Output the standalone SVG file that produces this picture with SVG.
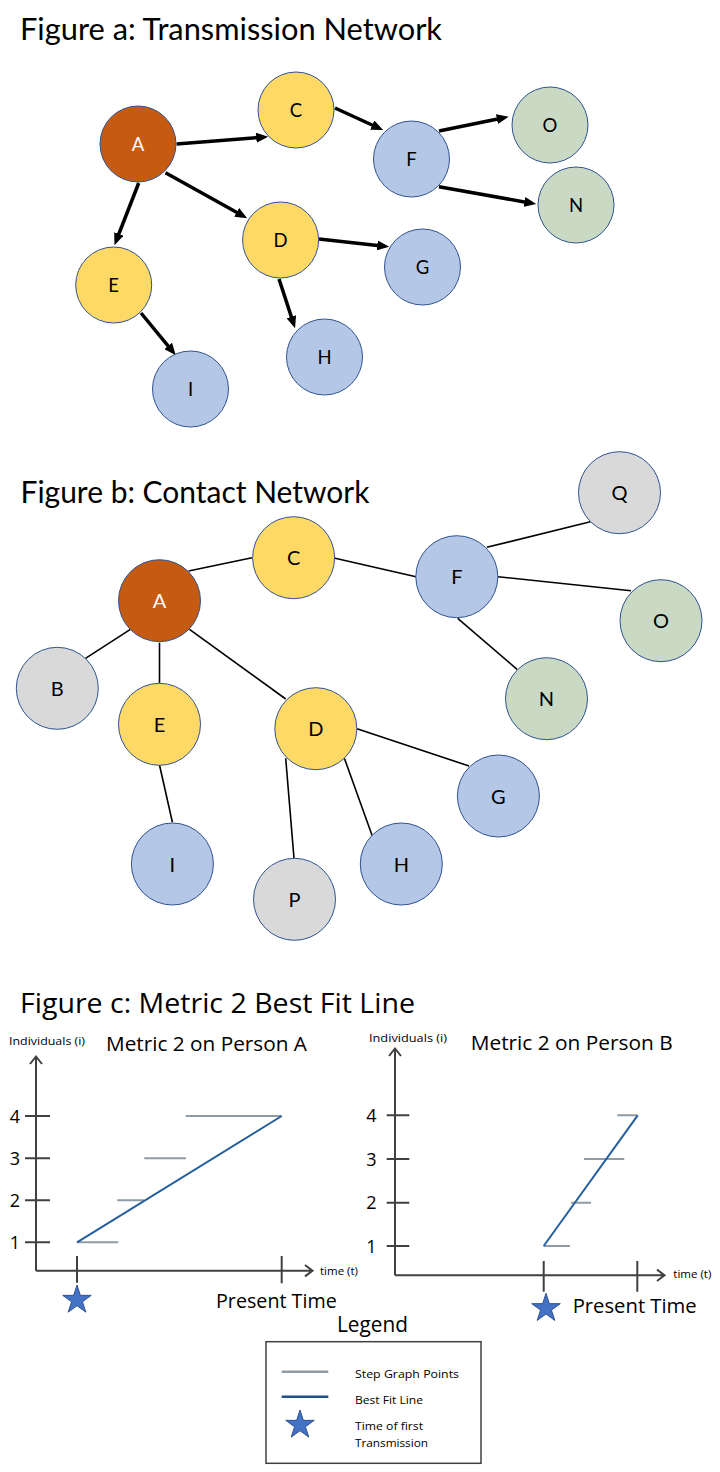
<svg xmlns="http://www.w3.org/2000/svg" width="720" height="1472" viewBox="0 0 720 1472">
<style>
.title{font-family:Lato,"Open Sans",sans-serif;font-size:30px;fill:#000}
.ctitle{font-family:"Open Sans","Noto Sans",sans-serif;font-size:26.5px;fill:#000}
.lbl{font-family:Lato,"Open Sans",sans-serif;font-size:18.5px;fill:#000;text-anchor:middle}
.lblb{font-family:Lato,"Open Sans",sans-serif;font-size:20px;fill:#000;text-anchor:middle}
.nd{stroke:#2F528F;stroke-width:1}
.red{fill:#C55A11}.yel{fill:#FFD966}.blu{fill:#B4C7E7}.grn{fill:#C9D9C3}.gry{fill:#D9D9D9}
.arr{stroke:#000;stroke-width:3.5;fill:none;marker-end:url(#ah)}
.con{stroke:#000;stroke-width:1.6;fill:none}
.ax{stroke:#404040;stroke-width:2;fill:none}
.step{stroke:#8E9CA5;stroke-width:2;fill:none}
.fit{stroke:#245E9C;stroke-width:2;fill:none}
.small{font-family:"Open Sans","Noto Sans",sans-serif;font-size:11.5px;fill:#000}
.mid{font-family:"Open Sans","Noto Sans",sans-serif;font-size:20px;fill:#000}
.num{font-family:"Open Sans","Noto Sans",sans-serif;font-size:18px;fill:#000;text-anchor:middle}
.star{fill:#4472C4;stroke:#2F528F;stroke-width:1}
</style>
<defs>
<marker id="ah" viewBox="0 0 12 10" refX="7" refY="5" markerWidth="12" markerHeight="10" markerUnits="userSpaceOnUse" orient="auto"><path d="M0,0 L12,5 L0,10 z" fill="#000"/></marker>
<path id="starp" d="M0,-15 L3.37,-4.64 L14.27,-4.64 L5.45,1.77 L8.82,12.14 L0,5.73 L-8.82,12.14 L-5.45,1.77 L-14.27,-4.64 L-3.37,-4.64 Z"/>
</defs>
<rect width="720" height="1472" fill="#fff"/>

<!-- Figure a -->
<text class="title" x="20" y="39.5" textLength="422" lengthAdjust="spacingAndGlyphs">Figure a: Transmission Network</text>
<g id="a-connectors">
<line class="arr" x1="176.6" y1="144" x2="263.2" y2="137.1"/>
<line class="arr" x1="335" y1="108" x2="378.6" y2="128"/>
<line class="arr" x1="439" y1="131" x2="503.8" y2="117.7"/>
<line class="arr" x1="439" y1="186.7" x2="531.3" y2="203.2"/>
<line class="arr" x1="165.5" y1="172.7" x2="242.8" y2="215.7"/>
<line class="arr" x1="138.7" y1="183" x2="116.3" y2="240.5"/>
<line class="arr" x1="319" y1="239" x2="384.2" y2="246.2"/>
<line class="arr" x1="279" y1="279" x2="293.5" y2="323.4"/>
<line class="arr" x1="141" y1="313" x2="172.6" y2="351.3"/>
</g>
<g id="a-A"><circle class="nd red" cx="138" cy="144" r="38"/><text class="lbl" x="138" y="150.5" style="fill:#fff">A</text></g>
<g id="a-C"><circle class="nd yel" cx="296" cy="110" r="38"/><text class="lbl" x="296" y="116.5">C</text></g>
<g id="a-F"><circle class="nd blu" cx="411.5" cy="159" r="38"/><text class="lbl" x="411.5" y="165.5">F</text></g>
<g id="a-O"><circle class="nd grn" cx="550" cy="125" r="38"/><text class="lbl" x="550" y="131.5">O</text></g>
<g id="a-N"><circle class="nd grn" cx="576" cy="205" r="38"/><text class="lbl" x="576" y="211.5">N</text></g>
<g id="a-D"><circle class="nd yel" cx="280.6" cy="240" r="38"/><text class="lbl" x="280.6" y="246.5">D</text></g>
<g id="a-G"><circle class="nd blu" cx="422.5" cy="267" r="38"/><text class="lbl" x="422.5" y="273.5">G</text></g>
<g id="a-E"><circle class="nd yel" cx="113.7" cy="285" r="38"/><text class="lbl" x="113.7" y="291.5">E</text></g>
<g id="a-H"><circle class="nd blu" cx="324.5" cy="357" r="38"/><text class="lbl" x="324.5" y="363.5">H</text></g>
<g id="a-I"><circle class="nd blu" cx="190.5" cy="389" r="38"/><text class="lbl" x="190.5" y="395.5">I</text></g>

<!-- Figure b -->
<text class="title" x="20.5" y="503.3" textLength="349" lengthAdjust="spacingAndGlyphs">Figure b: Contact Network</text>
<g id="b-connectors">
<line class="con" x1="188.6" y1="571" x2="252" y2="557.7"/>
<line class="con" x1="334" y1="558" x2="416" y2="576.7"/>
<line class="con" x1="486.8" y1="547.3" x2="590.4" y2="521.7"/>
<line class="con" x1="498" y1="576.7" x2="631" y2="590.7"/>
<line class="con" x1="457.7" y1="618.3" x2="517" y2="669.3"/>
<line class="con" x1="130.4" y1="629.3" x2="85.5" y2="658.3"/>
<line class="con" x1="159.5" y1="642.7" x2="159.5" y2="683.3"/>
<line class="con" x1="189.5" y1="629.3" x2="285.7" y2="699"/>
<line class="con" x1="357" y1="728.7" x2="469" y2="766"/>
<line class="con" x1="344.4" y1="758.3" x2="372.2" y2="835.7"/>
<line class="con" x1="285.7" y1="758.3" x2="294" y2="858.3"/>
<line class="con" x1="159.5" y1="765" x2="172.4" y2="822.3"/>
</g>
<g id="b-Q"><circle class="nd gry" cx="619.5" cy="492.7" r="41"/><text class="lblb" x="619.5" y="500.2">Q</text></g>
<g id="b-C"><circle class="nd yel" cx="293.6" cy="557.7" r="41"/><text class="lblb" x="293.6" y="565.2">C</text></g>
<g id="b-A"><circle class="nd red" cx="159.5" cy="600.7" r="41"/><text class="lblb" x="159.5" y="608.2" style="fill:#fff">A</text></g>
<g id="b-F"><circle class="nd blu" cx="456.8" cy="576.7" r="41"/><text class="lblb" x="456.8" y="584.2">F</text></g>
<g id="b-O"><circle class="nd grn" cx="661" cy="620.7" r="41"/><text class="lblb" x="661" y="628.2">O</text></g>
<g id="b-N"><circle class="nd grn" cx="546.5" cy="698.7" r="41"/><text class="lblb" x="546.5" y="706.2">N</text></g>
<g id="b-B"><circle class="nd gry" cx="57.3" cy="688.3" r="41"/><text class="lblb" x="57.3" y="695.8">B</text></g>
<g id="b-E"><circle class="nd yel" cx="159.5" cy="724.3" r="41"/><text class="lblb" x="159.5" y="731.8">E</text></g>
<g id="b-D"><circle class="nd yel" cx="315.8" cy="728.7" r="41"/><text class="lblb" x="315.8" y="736.2">D</text></g>
<g id="b-G"><circle class="nd blu" cx="498.4" cy="796" r="41"/><text class="lblb" x="498.4" y="803.5">G</text></g>
<g id="b-I"><circle class="nd blu" cx="172.4" cy="864" r="41"/><text class="lblb" x="172.4" y="871.5">I</text></g>
<g id="b-H"><circle class="nd blu" cx="401.3" cy="864" r="41"/><text class="lblb" x="401.3" y="871.5">H</text></g>
<g id="b-P"><circle class="nd gry" cx="294.5" cy="899.3" r="41"/><text class="lblb" x="294.5" y="906.8">P</text></g>

<!-- Figure c -->
<text class="ctitle" x="20" y="1012.7" textLength="395" lengthAdjust="spacingAndGlyphs">Figure c: Metric 2 Best Fit Line</text>

<g id="chart-A">
<text class="small" x="9" y="1045" textLength="76" lengthAdjust="spacingAndGlyphs">Individuals (i)</text>
<text class="mid" x="106" y="1050.7" textLength="201" lengthAdjust="spacingAndGlyphs">Metric 2 on Person A</text>
<path class="ax" d="M36,1270.7 V1057 M30,1064 L36,1056.5 L42,1064"/>
<path class="ax" d="M36,1270.7 H312 M305,1265 L312.5,1270.7 L305,1276.4"/>
<path class="ax" d="M25,1116 H50 M25,1158.3 H50 M25,1200.3 H50 M25,1242.3 H50 M77,1256 V1282.7 M281.7,1256 V1283.3"/>
<text class="num" x="15" y="1122.5">4</text>
<text class="num" x="15" y="1164.8">3</text>
<text class="num" x="15" y="1206.8">2</text>
<text class="num" x="15" y="1248.8">1</text>
<path class="step" d="M77,1242.3 H118.3 M117.3,1200.3 H144 M144.3,1158.3 H186 M185.7,1116 H281.7"/>
<line class="fit" x1="77" y1="1242.3" x2="281.7" y2="1116"/>
<text class="small" x="320" y="1275">time (t)</text>
<use href="#starp" class="star" transform="translate(77,1300)"/>
<text class="mid" x="216" y="1308.3" textLength="120.7" lengthAdjust="spacingAndGlyphs">Present Time</text>
</g>

<g id="chart-B">
<text class="small" x="369" y="1041.5" textLength="78" lengthAdjust="spacingAndGlyphs">Individuals (i)</text>
<text class="mid" x="470.7" y="1050" textLength="202" lengthAdjust="spacingAndGlyphs">Metric 2 on Person B</text>
<path class="ax" d="M395,1275.3 V1049 M389,1056 L395,1048.5 L401,1056"/>
<path class="ax" d="M395,1275.3 H664 M657,1269.6 L664.5,1275.3 L657,1281"/>
<path class="ax" d="M386.7,1115.3 H409.3 M386.7,1159 H409.3 M386.7,1202.7 H409.3 M386.7,1246 H409.3 M543.7,1261 V1291.7 M637.3,1261 V1291.7"/>
<text class="num" x="371.5" y="1121.8">4</text>
<text class="num" x="371.5" y="1165.5">3</text>
<text class="num" x="371.5" y="1209.2">2</text>
<text class="num" x="371.5" y="1252.5">1</text>
<path class="step" d="M543.7,1246 H570 M571,1202.7 H591 M584,1159 H624.3 M617.3,1115.3 H637.7"/>
<line class="fit" x1="543.7" y1="1246" x2="637.7" y2="1115.3"/>
<text class="small" x="673.3" y="1278">time (t)</text>
<use href="#starp" class="star" transform="translate(546,1308.3)"/>
<text class="mid" x="572.7" y="1313.3" textLength="124" lengthAdjust="spacingAndGlyphs">Present Time</text>
</g>

<g id="legend">
<text class="mid" x="337" y="1331.7" style="font-size:22px" textLength="71" lengthAdjust="spacingAndGlyphs">Legend</text>
<rect x="266" y="1341.7" width="215" height="121.6" fill="#fff" stroke="#404040" stroke-width="1.5"/>
<line x1="281.7" y1="1371.7" x2="328.3" y2="1371.7" stroke="#8E9CA5" stroke-width="2.5"/>
<line x1="281.7" y1="1396.7" x2="328.3" y2="1396.7" stroke="#1F4E8C" stroke-width="2.5"/>
<use href="#starp" class="star" transform="translate(300,1425)"/>
<text class="small" x="355" y="1378.3" textLength="104" lengthAdjust="spacingAndGlyphs">Step Graph Points</text>
<text class="small" x="355" y="1404.3" textLength="68" lengthAdjust="spacingAndGlyphs">Best Fit Line</text>
<text class="small" x="355" y="1430" textLength="68" lengthAdjust="spacingAndGlyphs">Time of first</text>
<text class="small" x="355" y="1447.3" textLength="73" lengthAdjust="spacingAndGlyphs">Transmission</text>
</g>
</svg>
